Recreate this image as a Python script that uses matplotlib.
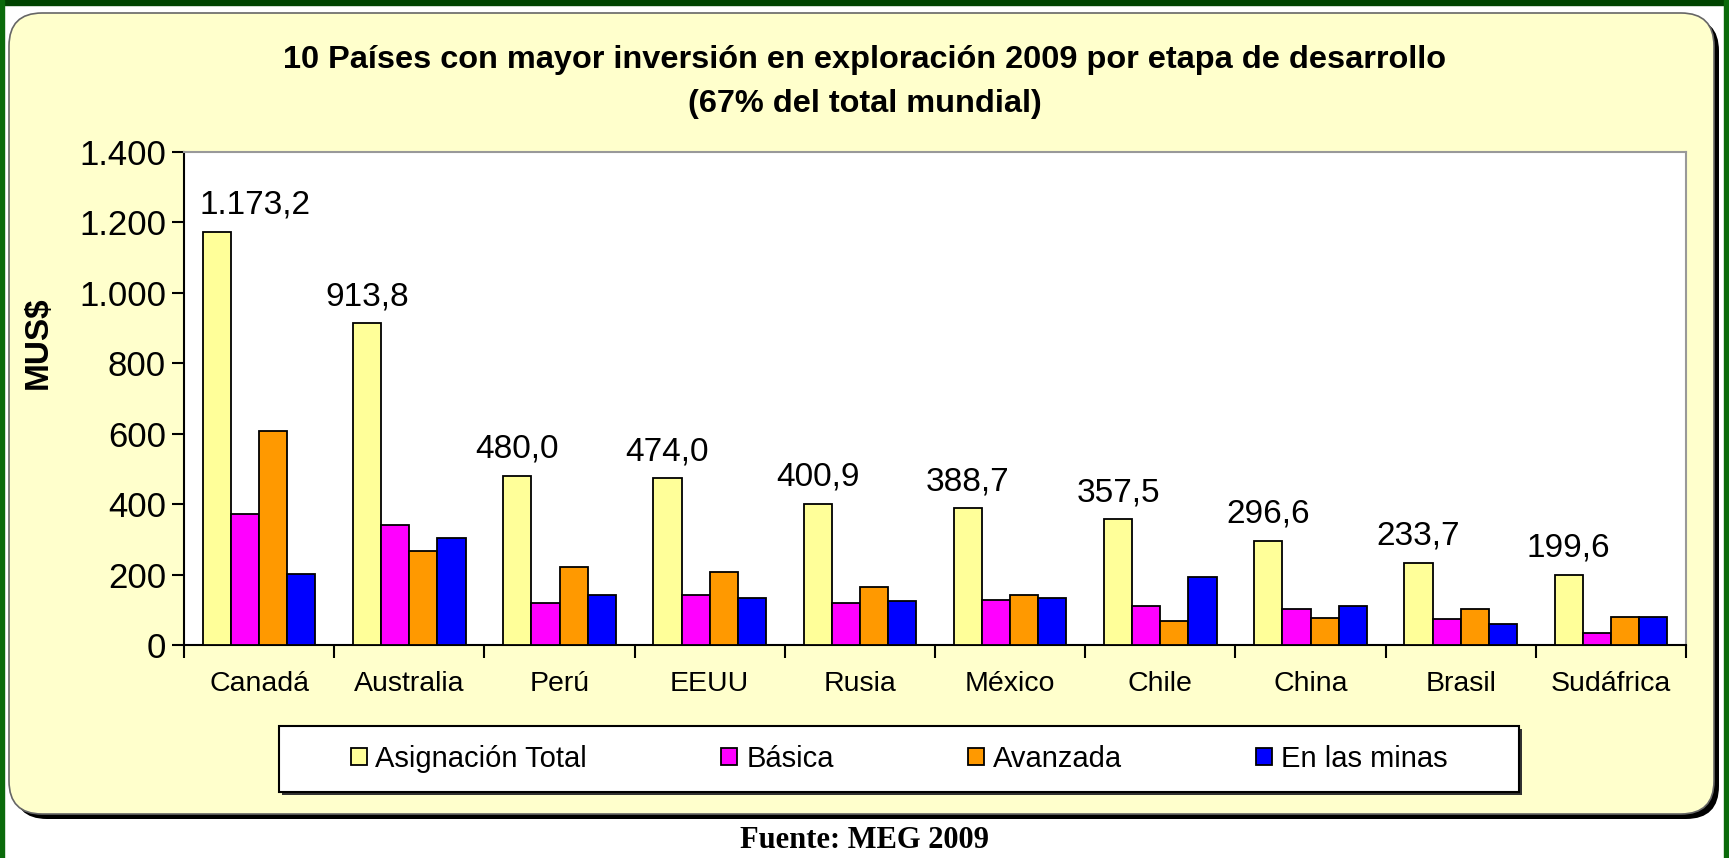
import matplotlib
matplotlib.use("Agg")
import matplotlib.pyplot as plt
import numpy as np
from matplotlib.patches import Rectangle, FancyBboxPatch, Patch

countries = ["Canadá", "Australia", "Perú", "EEUU", "Rusia", "México",
             "Chile", "China", "Brasil", "Sudáfrica"]
total = [1173.2, 913.8, 480.0, 474.0, 400.9, 388.7, 357.5, 296.6, 233.7, 199.6]
basica = [372, 341, 119, 141, 119, 127, 112, 103, 75, 34]
avanzada = [608, 266, 222, 207, 166, 141, 68, 78, 103, 80]
minas = [202, 304, 141, 134, 125, 134, 194, 112, 59, 80]

series = ["Asignación Total", "Básica", "Avanzada", "En las minas"]
colors = ["#FFFF99", "#FF00FF", "#FF9900", "#0000FF"]

title1 = "10 Países con mayor inversión en exploración 2009 por etapa de desarrollo"
title2 = "(67% del total mundial)"
source = "Fuente: MEG 2009"

plt.rcParams["font.family"] = ["Liberation Sans", "DejaVu Sans"]

W, H = 1729, 858
fig = plt.figure(figsize=(W / 100, H / 100), dpi=100)
fig.patch.set_facecolor("white")
inch = fig.dpi_scale_trans

# green frame
fig.patches.append(Rectangle((0, (H - 5) / 100), W / 100, 0.05, transform=inch,
                             color="#004400", zorder=-3))
fig.patches.append(Rectangle((0, 0), 0.04, H / 100, transform=inch,
                             color="#0a6a0a", zorder=-3))
fig.patches.append(Rectangle(((W - 5) / 100, 0), 0.05, H / 100, transform=inch,
                             color="#0a6a0a", zorder=-3))

# yellow rounded panel with shadow
bx, by, bw, bh = 0.09, (H - 814) / 100, 17.05, (814 - 13) / 100
fig.patches.append(FancyBboxPatch((bx + 0.05, by - 0.05), bw, bh,
                                  boxstyle="round,pad=0,rounding_size=0.33",
                                  transform=inch, fc="black", ec="none", zorder=-2))
fig.patches.append(FancyBboxPatch((bx, by), bw, bh,
                                  boxstyle="round,pad=0,rounding_size=0.33",
                                  transform=inch, fc="#FFFFCC", ec="#666666",
                                  lw=1.2, zorder=-2))

# legend box
lx0, lx1, ly0, ly1 = 279, 1519, 726, 792
fig.patches.append(Rectangle((lx0 / 100 + 0.03, (H - ly1) / 100 - 0.03),
                             (lx1 - lx0) / 100, (ly1 - ly0) / 100, transform=inch,
                             fc="#333333", ec="none", zorder=-1))
fig.patches.append(Rectangle((lx0 / 100, (H - ly1) / 100),
                             (lx1 - lx0) / 100, (ly1 - ly0) / 100, transform=inch,
                             fc="white", ec="black", lw=1.5, zorder=-1))

# plot area
left, right, top, bottom = 184, 1686, 152, 645
ax = fig.add_axes([left / W, (H - bottom) / H, (right - left) / W, (bottom - top) / H])
ax.set_zorder(2)
ax.set_facecolor("white")

x = np.arange(len(countries))
w = 0.1875
data = [total, basica, avanzada, minas]
yellow_bars = None
for i, (vals, c) in enumerate(zip(data, colors)):
    bars = ax.bar(x + (i - 1.5) * w, vals, width=w, color=c, edgecolor="black",
                  linewidth=1.3, zorder=3)
    if i == 0:
        yellow_bars = bars

ax.set_xlim(-0.5, len(countries) - 0.5)
ax.set_ylim(0, 1400)
ax.set_yticks(np.arange(0, 1401, 200))
ax.set_yticklabels([f"{v:,.0f}".replace(",", ".") for v in np.arange(0, 1401, 200)])
ax.tick_params(axis="y", length=9, width=1.5, pad=4, labelsize=25)

ax.set_xticks(np.arange(len(countries) + 1) - 0.5)
ax.set_xticklabels([])
ax.tick_params(axis="x", which="major", length=9, width=1.5)
ax.set_xticks(x, labels=countries, minor=True)
ax.tick_params(axis="x", which="minor", length=0, pad=19, labelsize=20.5)

for s in ["left", "bottom"]:
    ax.spines[s].set_color("black")
    ax.spines[s].set_linewidth(1.5)
for s in ["top", "right"]:
    ax.spines[s].set_color("#999999")
    ax.spines[s].set_linewidth(1.5)

labels = []
for b, v in zip(yellow_bars, total):
    txt = f"{v:,.1f}".replace(",", "X").replace(".", ",").replace("X", ".")
    t = ax.annotate(txt, (b.get_x() + b.get_width() / 2, v), xytext=(0, 13),
                    textcoords="offset points", ha="center", va="baseline",
                    fontsize=24, zorder=4)
    labels.append((t, b))

# keep the first label inside the plot area, as the original does
fig.canvas.draw()
ax_x0 = ax.get_window_extent().x0
for t, b in labels:
    if t.get_window_extent().x0 < ax_x0:
        t.xy = (b.get_x(), t.xy[1])
        t.set_ha("left")
        t.set_position((-2, 13))

fig.text(0.5, 1 - 60 / H, title1, ha="center", va="center", fontsize=23.4,
         fontweight="bold")
fig.text(0.5, 1 - 104 / H, title2, ha="center", va="center", fontsize=23.4,
         fontweight="bold")
fig.text(38 / W, 1 - 343 / H, "MUS$", rotation=90, ha="center", va="center",
         fontsize=24, fontweight="bold")
fig.text(0.5, 1 - 841 / H, source, ha="center", va="center", fontsize=22,
         fontweight="bold", family=["Liberation Serif", "DejaVu Serif"])

handles = [Patch(facecolor=c, edgecolor="black", linewidth=1.3) for c in colors]
leg = fig.legend(handles, series, loc="center", ncol=4, frameon=False,
                 bbox_to_anchor=((lx0 + lx1) / 2 / W, 1 - (ly0 + ly1) / 2 / H),
                 fontsize=21, handlelength=0.55, handleheight=0.55,
                 handletextpad=0.3, columnspacing=4.6)
leg.set_zorder(5)

fig.savefig("out.png", dpi=100, facecolor=fig.get_facecolor())
